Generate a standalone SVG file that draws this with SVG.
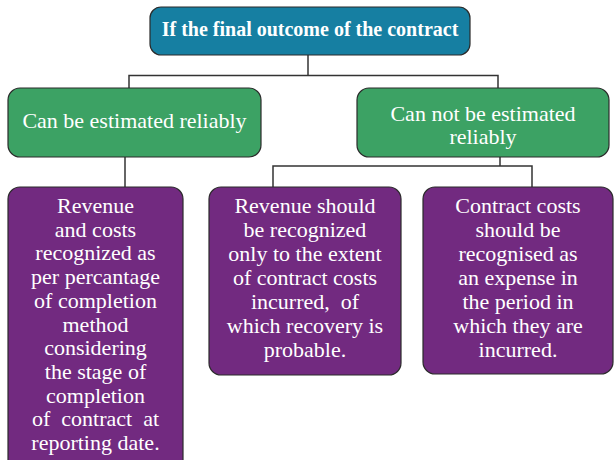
<svg xmlns="http://www.w3.org/2000/svg" width="614" height="460" viewBox="0 0 614 460">
<style>
.box{stroke:#2b2b2b;stroke-width:1.2}
.teal{fill:#167fa2}
.green{fill:#3ca264}
.purple{fill:#722a80}
.t{font-family:"Liberation Serif","DejaVu Serif",serif;fill:#ffffff;text-anchor:middle;font-size:22px}
.title{font-weight:bold;font-size:20px}
.conn{fill:none;stroke:#333333;stroke-width:1.5}
</style>
<rect width="614" height="460" fill="#ffffff"/>
<g id="connectors">
<polyline class="conn" points="308,55 308,75.5"/>
<polyline class="conn" points="129,88 129,75.5 498,75.5 498,88"/>
<polyline class="conn" points="125,157 125,187"/>
<polyline class="conn" points="500,157 500,166"/>
<polyline class="conn" points="273,187 273,166 532,166 532,187"/>
</g>
<g id="root">
<rect class="box teal" x="150" y="7" width="320" height="48" rx="11"/>
<text class="t title" x="310" y="36">If the final outcome of the contract</text>
</g>
<g id="reliable">
<rect class="box green" x="8" y="88" width="253" height="69" rx="12"/>
<text class="t" x="134.5" y="128">Can be estimated reliably</text>
</g>
<g id="not-reliable">
<rect class="box green" x="357" y="88" width="252" height="69" rx="12"/>
<text class="t" x="483" y="121">Can not be estimated</text>
<text class="t" x="483" y="144">reliably</text>
</g>
<g id="percentage">
<rect class="box purple" x="8" y="187" width="175" height="290" rx="12"/>
<text class="t" x="95.5" y="213">Revenue</text>
<text class="t" x="95.5" y="236.7">and costs</text>
<text class="t" x="95.5" y="260.4">recognized as</text>
<text class="t" x="95.5" y="284.1">per percantage</text>
<text class="t" x="95.5" y="307.8">of completion</text>
<text class="t" x="95.5" y="331.5">method</text>
<text class="t" x="95.5" y="355.2">considering</text>
<text class="t" x="95.5" y="378.9">the stage of</text>
<text class="t" x="95.5" y="402.6">completion</text>
<text class="t" x="95.5" y="426.3" xml:space="preserve">of  contract  at</text>
<text class="t" x="95.5" y="450">reporting date.</text>
</g>
<g id="revenue">
<rect class="box purple" x="209" y="187" width="192" height="188" rx="12"/>
<text class="t" x="305" y="212.5">Revenue should</text>
<text class="t" x="305" y="236.6">be recognized</text>
<text class="t" x="305" y="260.7">only to the extent</text>
<text class="t" x="305" y="284.8">of contract costs</text>
<text class="t" x="305" y="308.9" xml:space="preserve">incurred,  of</text>
<text class="t" x="305" y="333">which recovery is</text>
<text class="t" x="305" y="357.1">probable.</text>
</g>
<g id="costs">
<rect class="box purple" x="423" y="187" width="190" height="187" rx="12"/>
<text class="t" x="518" y="212.5">Contract costs</text>
<text class="t" x="518" y="236.6">should be</text>
<text class="t" x="518" y="260.7">recognised as</text>
<text class="t" x="518" y="284.8">an expense in</text>
<text class="t" x="518" y="308.9">the period in</text>
<text class="t" x="518" y="333">which they are</text>
<text class="t" x="518" y="357.1">incurred.</text>
</g>
</svg>
